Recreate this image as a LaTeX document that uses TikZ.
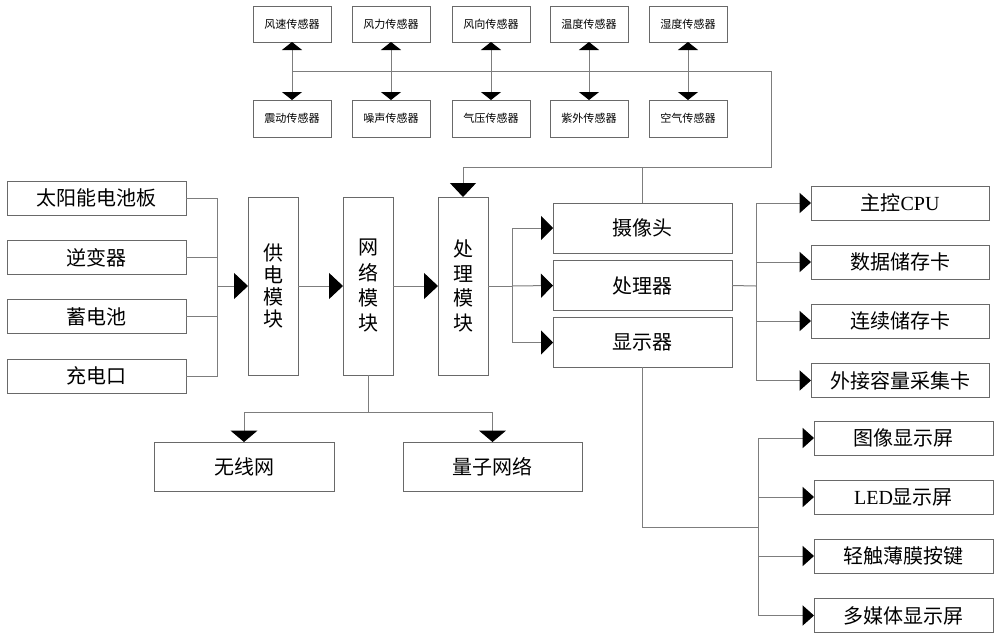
\documentclass[tikz,border=0pt]{standalone}
\usepackage{fontspec}
\setmainfont{Liberation Serif}
\newfontfamily\cjk{Noto Sans CJK SC}
\usetikzlibrary{arrows.meta}
\definecolor{linegray}{RGB}{125,125,125}
\definecolor{boxgray}{RGB}{105,105,105}
\begin{document}
\begin{tikzpicture}[x=0.75pt,y=-0.75pt,line width=0.75pt,
  box/.style={draw=boxgray,inner sep=0pt,outer sep=0pt,font=\cjk\fontsize{15pt}{18pt}\selectfont,text=black},
  sbox/.style={draw=boxgray,inner sep=0pt,outer sep=0pt,minimum width=58.5pt,font=\cjk\fontsize{8.3pt}{10pt}\selectfont,text=black},
  wire/.style={draw=linegray},
  arrA/.style={wire,-{Triangle[length=10.5pt,width=19.5pt,color=black]}},
  arrB/.style={wire,-{Triangle[length=9pt,width=18pt,color=black]}},
  arrC/.style={wire,-{Triangle[length=8.5pt,width=15pt,color=black]}},
  arrD/.style={wire,-{Triangle[length=8.5pt,width=20pt,color=black]}},
  arrS/.style={wire,{Triangle[length=6pt,width=15pt,color=black]}-{Triangle[length=6pt,width=15pt,color=black]}}
]
\useasboundingbox[fill=white] (0,0) rectangle (1000,640);

% sensors
\node[sbox,minimum height=27pt] (s1) at (292,24) {风速传感器};
\node[sbox,minimum height=27pt] (s2) at (391,24) {风力传感器};
\node[sbox,minimum height=27pt] (s3) at (491,24) {风向传感器};
\node[sbox,minimum height=27pt] (s4) at (589,24) {温度传感器};
\node[sbox,minimum height=27pt] (s5) at (688,24) {湿度传感器};
\node[sbox,minimum height=27.75pt] (t1) at (292,118.5) {震动传感器};
\node[sbox,minimum height=27.75pt] (t2) at (391,118.5) {噪声传感器};
\node[sbox,minimum height=27.75pt] (t3) at (491,118.5) {气压传感器};
\node[sbox,minimum height=27.75pt] (t4) at (589,118.5) {紫外传感器};
\node[sbox,minimum height=27.75pt] (t5) at (688,118.5) {空气传感器};

% left boxes
\node[box,minimum width=134.25pt,minimum height=25.5pt] (b1) at (96.5,198) {太阳能电池板};
\node[box,minimum width=134.25pt,minimum height=25.5pt] (b2) at (96.5,257.5) {逆变器};
\node[box,minimum width=134.25pt,minimum height=25.5pt] (b3) at (96.5,316.5) {蓄电池};
\node[box,minimum width=134.25pt,minimum height=25.5pt] (b4) at (96.5,376) {充电口};

% modules
\node[box,minimum width=37.5pt,minimum height=133.5pt,align=center,font=\cjk\fontsize{15pt}{16.5pt}\selectfont] (gd) at (273,286) {供\\电\\模\\块};
\node[box,minimum width=37.5pt,minimum height=133.5pt,align=center,font=\cjk\fontsize{15pt}{19pt}\selectfont] (wl) at (368,286) {网\\络\\模\\块};
\node[box,minimum width=37.5pt,minimum height=133.5pt,align=center,font=\cjk\fontsize{15pt}{18.5pt}\selectfont] (cl) at (463,286) {处\\理\\模\\块};

% middle
\node[box,minimum width=134.25pt,minimum height=37.5pt] (cam) at (642.5,228) {摄像头};
\node[box,minimum width=134.25pt,minimum height=37pt] (cpu0) at (642.5,285.5) {处理器};
\node[box,minimum width=134.25pt,minimum height=37pt] (disp) at (642.5,342.5) {显示器};

% right top
\node[box,minimum width=133.5pt,minimum height=25.5pt] (r1) at (900,203) {主控{\rmfamily CPU}};
\node[box,minimum width=133.5pt,minimum height=25.5pt] (r2) at (900,262) {数据储存卡};
\node[box,minimum width=133.5pt,minimum height=25.5pt] (r3) at (900,321) {连续储存卡};
\node[box,minimum width=133.5pt,minimum height=25.5pt] (r4) at (900,380.5) {外接容量采集卡};

% right bottom
\node[box,minimum width=134.25pt,minimum height=25.5pt] (d1) at (903.5,438) {图像显示屏};
\node[box,minimum width=134.25pt,minimum height=25.5pt] (d2) at (903.5,497) {{\rmfamily LED}显示屏};
\node[box,minimum width=134.25pt,minimum height=25.5pt] (d3) at (903.5,556) {轻触薄膜按键};
\node[box,minimum width=134.25pt,minimum height=25.5pt] (d4) at (903.5,615.5) {多媒体显示屏};

% network
\node[box,minimum width=135pt,minimum height=36.75pt] (wx) at (244,466.5) {无线网};
\node[box,minimum width=134.25pt,minimum height=36.75pt] (lz) at (492.5,466.5) {量子网络};

% coordinates
\coordinate (busL) at (217,286);
\coordinate (busM) at (512,286);
\coordinate (busR) at (756,286);
\coordinate (busD) at (758,527);
\coordinate (busN) at (368,412);
\coordinate (sr) at (771,71);
\coordinate (sd) at (771,167);

% sensor links
\foreach \i in {1,...,5}{\draw[arrS] (s\i.south) -- (t\i.north);}
\draw[arrA] (s1.south |- sr) -- (sr) -- (sd) -| (cl.north);
\draw[wire] (cam.north) -- (cam.north |- sd);

% left bus
\foreach \b in {b1,b2,b3,b4}{\draw[wire] (\b.east) -| (busL);}
\draw[arrA] (busL) -- (gd.west);
\draw[arrA] (gd.east) -- (wl.west);
\draw[arrA] (wl.east) -- (cl.west);

% processing to middle
\draw[wire] (cl.east) -- (busM);
\draw[arrB] (busM) |- (cam.west);
\draw[arrB] (busM) -- (cpu0.west);
\draw[arrB] (busM) |- (disp.west);

% processor to right
\draw[wire] (cpu0.east) -- (busR);
\foreach \r in {r1,r2,r3,r4}{\draw[arrC] (busR) |- (\r.west);}

% display to screens
\draw[wire] (disp.south) |- (busD);
\foreach \d in {d1,d2,d3,d4}{\draw[arrC] (busD) |- (\d.west);}

% network
\draw[wire] (wl.south) -- (busN);
\draw[arrD] (busN) -| (wx.north);
\draw[arrD] (busN) -| (lz.north);
\end{tikzpicture}
\end{document}
